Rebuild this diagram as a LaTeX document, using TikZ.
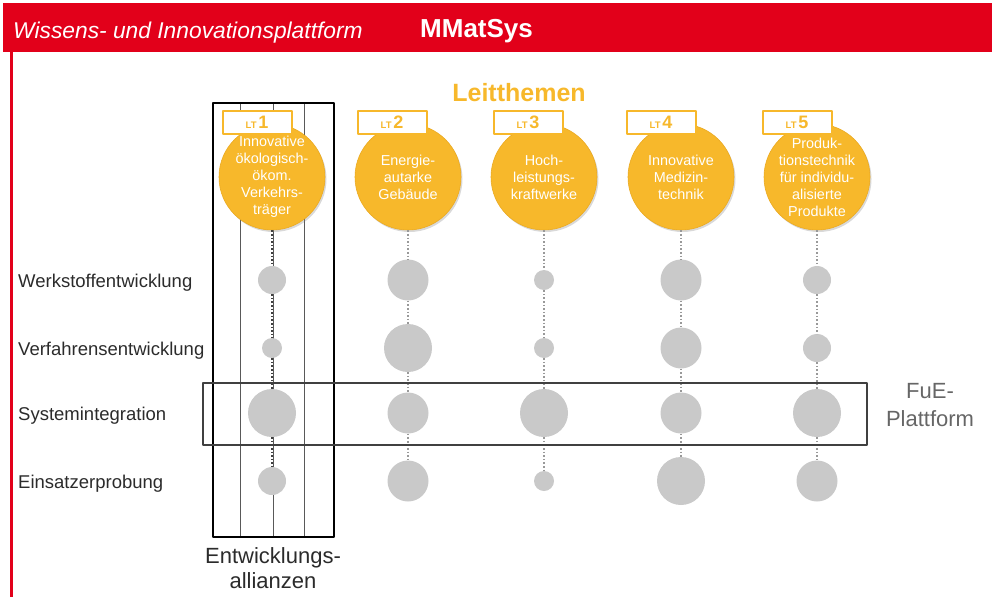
\documentclass[tikz,border=0pt]{standalone}
\usepackage{fontspec}
\setmainfont{Liberation Sans}
\usetikzlibrary{shadows}
\definecolor{mmred}{HTML}{E2001A}
\definecolor{ltorange}{HTML}{F7B82B}
\definecolor{ltedge}{HTML}{EBAA22}
\definecolor{bubblegray}{HTML}{C9C9C9}
\definecolor{labelgray}{HTML}{2B2B2B}
\begin{document}
\begin{tikzpicture}[x=1pt, y=-1pt, line join=round,
		theme/.style={circle, fill=ltorange, draw=ltedge, line width=0.6pt, minimum size=106pt, inner sep=0pt,
			drop shadow={shadow xshift=1.5pt, shadow yshift=-2pt, opacity=0.3, fill=black!50}},
		themetext/.style={text=white, align=center, inner sep=0pt, font=\fontsize{14.4}{17}\selectfont},
		ltbox/.style={draw=ltorange, line width=2pt, fill=white, minimum width=69pt, minimum height=23pt, inner sep=0pt, text=ltorange, font=\bfseries},
		bubble/.style={circle, fill=bubblegray, inner sep=0pt, minimum size=#1},
		dots/.style={line width=1.6pt, dash pattern=on 1.6pt off 2pt},
		rowlabel/.style={anchor=base west, inner sep=0pt, text=labelgray, font=\fontsize{18.5}{22}\selectfont},
		sidelabel/.style={anchor=north, align=center, inner sep=0pt}]
	\useasboundingbox (0,0) rectangle (992,597);
	% header
	\fill[mmred] (3,3) rectangle (992,52);
	\fill[mmred] (9.5,52) rectangle (12.5,597);
	\node[anchor=base west, inner sep=0pt, text=white, font=\fontsize{22.8}{26}\selectfont\itshape] (head) at (13,38) {Wissens- und Innovationsplattform};
	\node[anchor=base west, inner sep=0pt, text=white, font=\fontsize{26}{30}\selectfont\bfseries] (mmatsys) at (420,37) {MMatSys};
	\node[anchor=base, inner sep=0pt, text=ltorange, font=\fontsize{25}{30}\selectfont\bfseries] (leit) at (519,101) {Leitthemen};
	% Entwicklungsallianzen
	\foreach \xa in {240,273,304} \draw[black!65, line width=0.8pt] (\xa,103)--(\xa,537);
	\draw[line width=2pt] (213,103) rectangle (334,537);
	\node[sidelabel, text=labelgray, font=\fontsize{22}{25}\selectfont] (allianz) at (273,547) {Entwicklungs-\\allianzen};
	% rows
	\foreach \y/\txt in {280/Werkstoffentwicklung, 348/Verfahrensentwicklung, 413/Systemintegration, 481/Einsatzerprobung}
		\node[rowlabel] (row\y) at (18,\y+7.5) {\txt};
	% Leitthemen columns
	\foreach \c/\x/\bx/\ra/\rb/\rc/\rd/\dc in {1/272/257/28/20/48/28/black!75, 2/408/392/41/48/41/41/black!40,
			3/544/528/20/20/48/20/black!40, 4/681/661/41/41/41/48/black!40, 5/817/797/28/28/48/41/black!40}{
		\node[theme] (lt\c) at (\x,177) {};
		\node[ltbox] (k\c) at (\bx,122.5) {{\fontsize{9.5}{10}\selectfont LT}\,{\fontsize{18}{18}\selectfont\c}};
		\node[bubble=\ra pt] (b\c1) at (\x,280) {};
		\node[bubble=\rb pt] (b\c2) at (\x,348) {};
		\node[bubble=\rc pt] (b\c3) at (\x,413) {};
		\node[bubble=\rd pt] (b\c4) at (\x,481) {};
		\draw[dots, draw=\dc] (lt\c) -- (b\c1) (b\c1) -- (b\c2) (b\c2) -- (b\c3) (b\c3) -- (b\c4);
	}
	\node[themetext] (t1) at (lt1) {Innovative\\ökologisch-\\ökom.\\Verkehrs-\\träger};
	\node[themetext] (t2) at (lt2) {Energie-\\autarke\\Gebäude};
	\node[themetext] (t3) at (lt3) {Hoch-\\leistungs-\\kraftwerke};
	\node[themetext] (t4) at (lt4) {Innovative\\Medizin-\\technik};
	\node[themetext] (t5) at (lt5) {Produk-\\tionstechnik\\für individu-\\alisierte\\Produkte};
	% FuE-Plattform
	\draw[black!75, line width=1.8pt] (203,383) rectangle (867,445);
	\node[sidelabel, text=black!60, font=\fontsize{22}{28}\selectfont] (fue) at (930,383) {FuE-\\Plattform};
\end{tikzpicture}
\end{document}
